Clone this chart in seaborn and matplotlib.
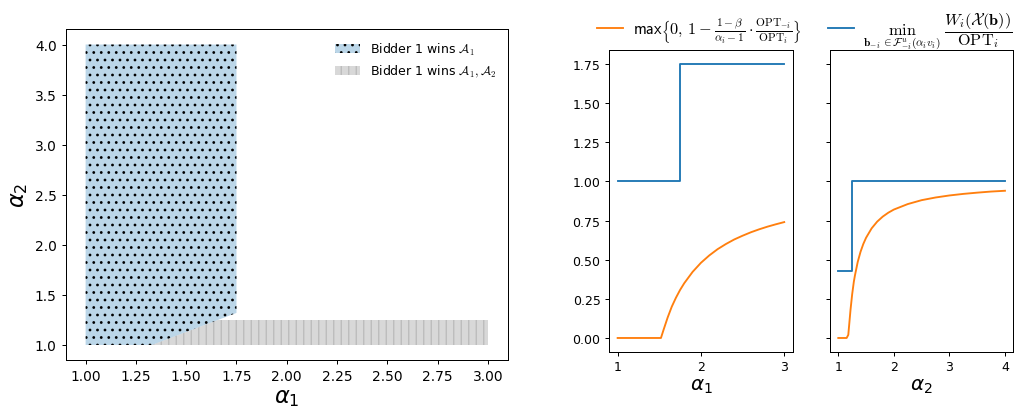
"""
    Bidder 1 winning regions (left) and welfare ratio lower bounds (right)
"""
import numpy as np
import matplotlib
matplotlib.use("Agg")
import matplotlib.pyplot as plt
from matplotlib.font_manager import FontProperties
import seaborn as sns

# ==========================================
# Data
# ==========================================
# left panel: winning regions in (alpha_1, alpha_2)
region_a1_x = [1.0, 1.0, 1.75, 1.75, 1.33]
region_a1_y = [1.0, 4.0, 4.0, 1.32, 1.0]
region_a12_x = [1.33, 3.0, 3.0, 1.66]
region_a12_y = [1.0, 1.0, 1.25, 1.25]
region_labels = [r'Bidder 1 wins $\mathcal{A}_1$', r'Bidder 1 wins $\mathcal{A}_1, \mathcal{A}_2$']

# right panel 1: sweep over alpha_1
a1_grid = [1.0, 1.52, 1.55, 1.6, 1.65, 1.7, 1.75, 1.8, 1.9, 2.0, 2.1, 2.2, 2.3, 2.4,
           2.5, 2.6, 2.7, 2.8, 2.9, 3.0]
a1_bound = [0.0, 0.0, 0.05, 0.13, 0.2, 0.257, 0.307, 0.35, 0.422, 0.48, 0.527, 0.567, 0.6, 0.629,
            0.653, 0.675, 0.694, 0.711, 0.726, 0.74]
a1_step_x = [1.0, 1.75, 1.75, 3.0]
a1_step_y = [1.0, 1.0, 1.75, 1.75]

# right panel 2: sweep over alpha_2
a2_grid = [1.0, 1.15, 1.18, 1.2, 1.22, 1.25, 1.28, 1.3, 1.35, 1.4, 1.45, 1.5, 1.6, 1.7, 1.8,
           1.9, 2.0, 2.25, 2.5, 2.75, 3.0, 3.25, 3.5, 3.75, 4.0]
a2_bound = [0.0, 0.0, 0.02, 0.1, 0.18, 0.28, 0.36, 0.4, 0.486, 0.55, 0.6, 0.64, 0.70, 0.743, 0.775,
            0.8, 0.82, 0.855, 0.88, 0.897, 0.91, 0.92, 0.928, 0.935, 0.94]
a2_step_x = [1.0, 1.25, 1.25, 4.0]
a2_step_y = [0.43, 0.43, 1.0, 1.0]

lab_bound = (r'$\mathsf{max}\left\{\mathsf{0,\,1}-\frac{1-\beta}{\alpha_i-1}\cdot'
             r'\frac{\mathrm{OPT}_{-i}}{\mathrm{OPT}_i}\right\}$')
lab_min = (r'$\min_{\mathbf{b}_{-i}\in\mathcal{F}^{u}_{-i}(\alpha_i v_i)}\ '
           r'\dfrac{W_i(\mathcal{X}(\mathbf{b}))}{\mathrm{OPT}_i}$')

C_BLUE = '#1f77b4'
C_ORANGE = '#ff7f0e'

DPI = 90
fig = plt.figure(figsize=(1014 / DPI, 416 / DPI), dpi=DPI)

# ---------------- left panel ----------------
ax0 = fig.add_axes([0.0646, 0.1322, 0.4364, 0.7945])
ax0.fill(region_a1_x, region_a1_y, facecolor=(0.12, 0.47, 0.71, 0.3),
         edgecolor='black', linewidth=0, hatch='..', label=region_labels[0])
ax0.fill(region_a12_x, region_a12_y, facecolor=(0.5, 0.5, 0.5, 0.3),
         edgecolor=(0.5, 0.5, 0.5, 0.35), linewidth=0, hatch='||', label=region_labels[1])
ax0.set_xticks(np.arange(1.0, 3.01, 0.25))
ax0.set_yticks(np.arange(1.0, 4.01, 0.5))
ax0.tick_params(labelsize=11)
ax0.set_xlabel(r'$\alpha_1$', fontsize=18, labelpad=2)
ax0.set_ylabel(r'$\alpha_2$', fontsize=18, labelpad=4)
ax0.legend(loc='upper right', frameon=False,
           prop=FontProperties(size=10, math_fontfamily='cm'))

# ---------------- right panels ----------------
ax1 = fig.add_axes([0.6009, 0.1522, 0.1807, 0.7247])
ax2 = fig.add_axes([0.8185, 0.1522, 0.1808, 0.7247], sharey=ax1)

sns.lineplot(x=a1_grid, y=a1_bound, ax=ax1, color=C_ORANGE, estimator=None, sort=False, label=lab_bound)
sns.lineplot(x=a1_step_x, y=a1_step_y, ax=ax1, color=C_BLUE, estimator=None, sort=False, label=lab_min)
sns.lineplot(x=a2_grid, y=a2_bound, ax=ax2, color=C_ORANGE, estimator=None, sort=False)
sns.lineplot(x=a2_step_x, y=a2_step_y, ax=ax2, color=C_BLUE, estimator=None, sort=False)

for ax in (ax1, ax2):
    if ax.get_legend() is not None:
        ax.get_legend().remove()

ax1.set_xticks([1, 2, 3])
ax2.set_xticks([1, 2, 3, 4])
ax1.set_yticks(np.arange(0.0, 1.76, 0.25))
ax2.tick_params(labelleft=False)
for ax in (ax1, ax2):
    ax.tick_params(labelsize=10)
ax1.set_xlabel(r'$\alpha_1$', fontsize=16, labelpad=2)
ax2.set_xlabel(r'$\alpha_2$', fontsize=16, labelpad=2)

handles, labels = ax1.get_legend_handles_labels()
fig.legend(handles, labels, loc='lower center', bbox_to_anchor=(0.794, 0.872), ncol=2,
           frameon=False, handlelength=1.6, handletextpad=0.6, columnspacing=1.6,
           borderaxespad=0.0, borderpad=0.1,
           prop=FontProperties(size=13, math_fontfamily='cm'))

plt.savefig('out.png', dpi=DPI)
plt.close()
